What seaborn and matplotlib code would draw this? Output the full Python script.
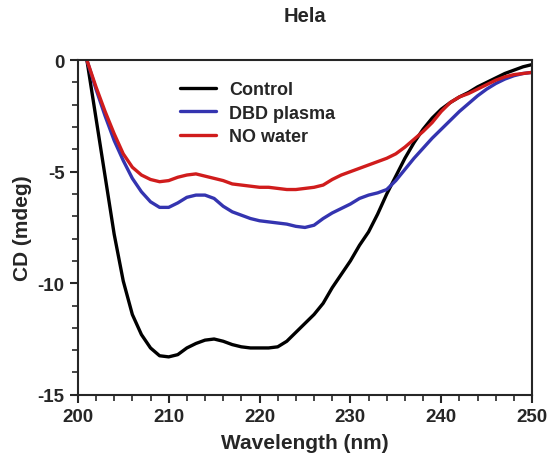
import numpy as np
import pandas as pd
import matplotlib
matplotlib.use("Agg")
import matplotlib.pyplot as plt
from matplotlib.ticker import MultipleLocator
import seaborn as sns

# CD spectra (1 nm steps, 201-250 nm)
wavelength = list(range(201, 251))

control = [0, -2.6, -5.2, -7.8, -9.9, -11.4, -12.3, -12.9, -13.25, -13.3,
           -13.2, -12.9, -12.7, -12.55, -12.5, -12.6, -12.75, -12.85, -12.9, -12.9,
           -12.9, -12.85, -12.6, -12.2, -11.8, -11.4, -10.9, -10.2, -9.6, -9.0,
           -8.3, -7.7, -6.9, -6.0, -5.2, -4.4, -3.7, -3.1, -2.6, -2.2,
           -1.9, -1.65, -1.45, -1.2, -1.0, -0.8, -0.6, -0.45, -0.3, -0.2]

dbd_plasma = [0, -1.3, -2.5, -3.6, -4.5, -5.3, -5.9, -6.35, -6.6, -6.6,
              -6.4, -6.15, -6.05, -6.05, -6.2, -6.55, -6.8, -6.95, -7.1, -7.2,
              -7.25, -7.3, -7.35, -7.45, -7.5, -7.4, -7.1, -6.85, -6.65, -6.45,
              -6.2, -6.05, -5.95, -5.8, -5.4, -4.9, -4.4, -3.95, -3.5, -3.1,
              -2.7, -2.3, -1.95, -1.6, -1.3, -1.05, -0.85, -0.7, -0.6, -0.55]

no_water = [0, -1.2, -2.3, -3.3, -4.2, -4.8, -5.15, -5.35, -5.45, -5.4,
            -5.25, -5.15, -5.1, -5.2, -5.3, -5.4, -5.55, -5.6, -5.65, -5.7,
            -5.7, -5.75, -5.8, -5.8, -5.75, -5.7, -5.6, -5.35, -5.15, -5.0,
            -4.85, -4.7, -4.55, -4.4, -4.2, -3.9, -3.55, -3.2, -2.8, -2.3,
            -1.9, -1.65, -1.5, -1.3, -1.1, -0.9, -0.75, -0.65, -0.6, -0.55]

df = pd.DataFrame({"Wavelength": wavelength, "Control": control,
                   "DBD plasma": dbd_plasma, "NO water": no_water})
long_df = df.melt(id_vars="Wavelength", var_name="Sample", value_name="CD")

sns.set_style("ticks")
plt.rcParams["font.family"] = ["Liberation Sans", "DejaVu Sans"]
plt.rcParams["font.weight"] = "bold"
plt.rcParams["axes.unicode_minus"] = False

fig = plt.figure(figsize=(5.48, 4.56), dpi=100)
ax = fig.add_axes([0.142, 0.132, 0.829, 0.734])

palette = {"Control": "#000000", "DBD plasma": "#3434b0", "NO water": "#d01c1c"}
sns.lineplot(data=long_df, x="Wavelength", y="CD", hue="Sample",
             palette=palette, linewidth=2.4, ax=ax)

ax.set_xlim(200, 250)
ax.set_ylim(-15, 0)
ax.xaxis.set_major_locator(MultipleLocator(10))
ax.xaxis.set_minor_locator(MultipleLocator(2))
ax.yaxis.set_major_locator(MultipleLocator(5))
ax.yaxis.set_minor_locator(MultipleLocator(1))
ax.tick_params(which="major", direction="out", length=6, width=1.5,
               labelsize=13.5, top=False, right=False)
ax.tick_params(which="minor", direction="out", length=4, width=1.2,
               top=False, right=False)
for lab in ax.get_xticklabels() + ax.get_yticklabels():
    lab.set_fontweight("bold")
for sp in ax.spines.values():
    sp.set_visible(True)
    sp.set_linewidth(1.5)

ax.set_xlabel("Wavelength (nm)", fontsize=15, fontweight="bold", labelpad=6)
ax.set_ylabel("CD (mdeg)", fontsize=15, fontweight="bold", labelpad=4)
ax.set_title("Hela", fontsize=14.5, fontweight="bold", pad=28)

leg = ax.legend(loc="upper left", bbox_to_anchor=(0.19, 0.985), frameon=False,
                fontsize=13, handlelength=2.0, handletextpad=0.7,
                labelspacing=0.35, title=None)
for t in leg.get_texts():
    t.set_fontweight("bold")

fig.savefig("out.png", dpi=100)
